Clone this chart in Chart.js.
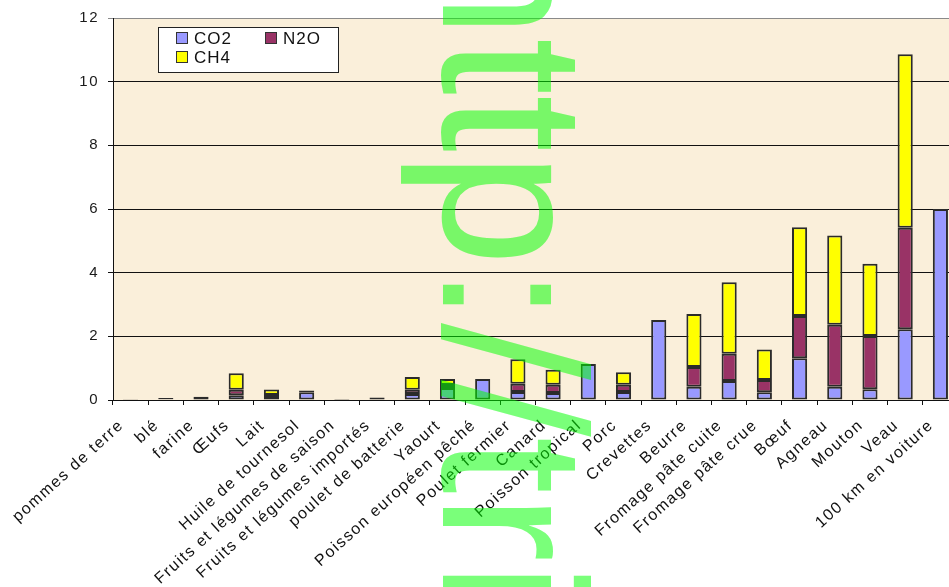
<!DOCTYPE html>
<html>
<head>
<meta charset="utf-8">
<script src="https://cdn.jsdelivr.net/npm/chart.js@4.4.1/dist/chart.umd.min.js"></script>
<style>
  html, body { margin: 0; padding: 0; background: #fff; overflow: hidden; }
  #wrap { width: 949px; height: 587px; overflow: hidden; }
</style>
</head>
<body>
<div id="wrap"><canvas id="ghg" width="980" height="587"></canvas></div>
<script>
// Categories and values (kg eq. CO2)
const categories = [
  'pommes de terre', 'blé', 'farine', 'Œufs', 'Lait', 'Huile de tournesol',
  'Fruits et légumes de saison', 'Fruits et légumes importés', 'poulet de batterie',
  'Yaourt', 'Poisson européen pêché', 'Poulet fermier', 'Canard', 'Poisson tropical',
  'Porc', 'Crevettes', 'Beurre', 'Fromage pâte cuite', 'Fromage pâte crue',
  'Bœuf', 'Agneau', 'Mouton', 'Veau', '100 km en voiture',
];
const co2 = [0.02, 0.02, 0.10, 0.15, 0.03, 0.24, 0.03, 0.08, 0.19, 0.38, 0.66, 0.25,
  0.22, 1.13, 0.25, 2.51, 0.42, 0.60, 0.24, 1.31, 0.42, 0.34, 2.22, 6.00];
const n2o = [0.01, 0.04, 0, 0.17, 0.13, 0.06, 0, 0, 0.13, 0.09, 0, 0.26,
  0.26, 0, 0.23, 0, 0.62, 0.85, 0.39, 1.33, 1.94, 1.67, 3.19, 0];
const ch4 = [0, 0, 0, 0.52, 0.17, 0, 0, 0, 0.40, 0.19, 0, 0.77,
  0.47, 0, 0.39, 0, 1.66, 2.25, 0.96, 2.79, 2.81, 2.27, 5.45, 0];
const yTicks = [0, 2, 4, 6, 8, 10, 12];

const colors = { co2: '#9999FF', n2o: '#993366', ch4: '#FFFF00' };

Chart.defaults.font.family = '"Liberation Sans", Arial, sans-serif';
Chart.defaults.color = '#1a1a1a';

// plot background + letter spacing used by the original rendering
const plotBg = {
  id: 'plotBg',
  beforeUpdate(c) { c.ctx.letterSpacing = '1.5px'; },
  beforeDraw(c) {
    const { ctx, chartArea: a } = c;
    ctx.letterSpacing = '1.5px';
    ctx.save();
    ctx.fillStyle = '#FAEFDA';
    ctx.fillRect(a.left, a.top, a.right - a.left, a.bottom - a.top);
    ctx.restore();
  },
};

// legend box inside the plot
const boxLegend = {
  id: 'boxLegend',
  afterDraw(c) {
    const { ctx } = c;
    ctx.save();
    ctx.fillStyle = '#fff';
    ctx.strokeStyle = '#222';
    ctx.lineWidth = 1;
    ctx.fillRect(158, 27, 180, 45);
    ctx.strokeRect(158.5, 27.5, 180, 45);
    ctx.font = '17px "Liberation Sans", Arial, sans-serif';
    ctx.letterSpacing = '1px';
    ctx.textBaseline = 'middle';
    const items = [
      { t: 'CO2', c: colors.co2, x: 176, y: 38 },
      { t: 'N2O', c: colors.n2o, x: 265, y: 38 },
      { t: 'CH4', c: colors.ch4, x: 176, y: 57 },
    ];
    items.forEach((it) => {
      ctx.fillStyle = it.c;
      ctx.fillRect(it.x, it.y - 6, 12, 12);
      ctx.strokeStyle = '#333';
      ctx.strokeRect(it.x + 0.5, it.y - 5.5, 11, 11);
      ctx.fillStyle = '#111';
      ctx.fillText(it.t, it.x + 18, it.y + 1);
    });
    ctx.restore();
  },
};

// green watermark text running down the picture
const watermark = {
  id: 'watermark',
  afterDraw(c) {
    const { ctx } = c;
    ctx.save();
    ctx.letterSpacing = '0px';
    ctx.translate(443, -76);
    ctx.rotate(Math.PI / 2);
    ctx.font = '205px "Liberation Sans", Arial, sans-serif';
    ctx.textBaseline = 'alphabetic';
    ctx.textAlign = 'left';
    ctx.fillStyle = 'rgba(0, 255, 0, 0.52)';
    ctx.fillText('http://tri', 0, 0);
    ctx.restore();
  },
};

const bw = (c) => (c.raw ? 2 : 0);
const ds = (label, data, color) => ({
  label,
  data,
  backgroundColor: color,
  borderColor: '#2b2b2b',
  borderWidth: bw,
  borderSkipped: false,
  barPercentage: 0.43,
  categoryPercentage: 1.0,
});

new Chart(document.getElementById('ghg'), {
  type: 'bar',
  data: {
    labels: categories,
    datasets: [
      ds('CO2', co2, colors.co2),
      ds('N2O', n2o, colors.n2o),
      ds('CH4', ch4, colors.ch4),
    ],
  },
  options: {
    responsive: false,
    animation: false,
    layout: { padding: { top: 16, left: 53, right: 22, bottom: 0 } },
    plugins: {
      legend: { display: false },
      tooltip: { enabled: false },
    },
    scales: {
      x: {
        stacked: true,
        offset: true,
        grid: {
          offset: true,
          drawOnChartArea: false,
          color: '#111',
          tickLength: 5,
        },
        border: { color: '#111', width: 1 },
        ticks: {
          autoSkip: false,
          minRotation: 42,
          maxRotation: 42,
          padding: 11,
          labelOffset: -9,
          color: '#111',
          font: { size: 16 },
        },
        afterFit(s) { s.height = 187; },
      },
      y: {
        stacked: true,
        min: 0,
        max: 12,
        afterBuildTicks(s) { s.ticks = yTicks.map((v) => ({ value: v })); },
        grid: {
          color: (c) => (c.tick && c.tick.value === 12 ? '#8a8a8a' : '#111'),
          lineWidth: 1,
          tickLength: 5,
        },
        border: { color: '#111', width: 1 },
        ticks: {
          padding: 9,
          color: '#1a1a1a',
          font: { size: 15 },
        },
        afterFit(s) { s.width = 60; },
      },
    },
  },
  plugins: [plotBg, boxLegend, watermark],
});
</script>
</body>
</html>
